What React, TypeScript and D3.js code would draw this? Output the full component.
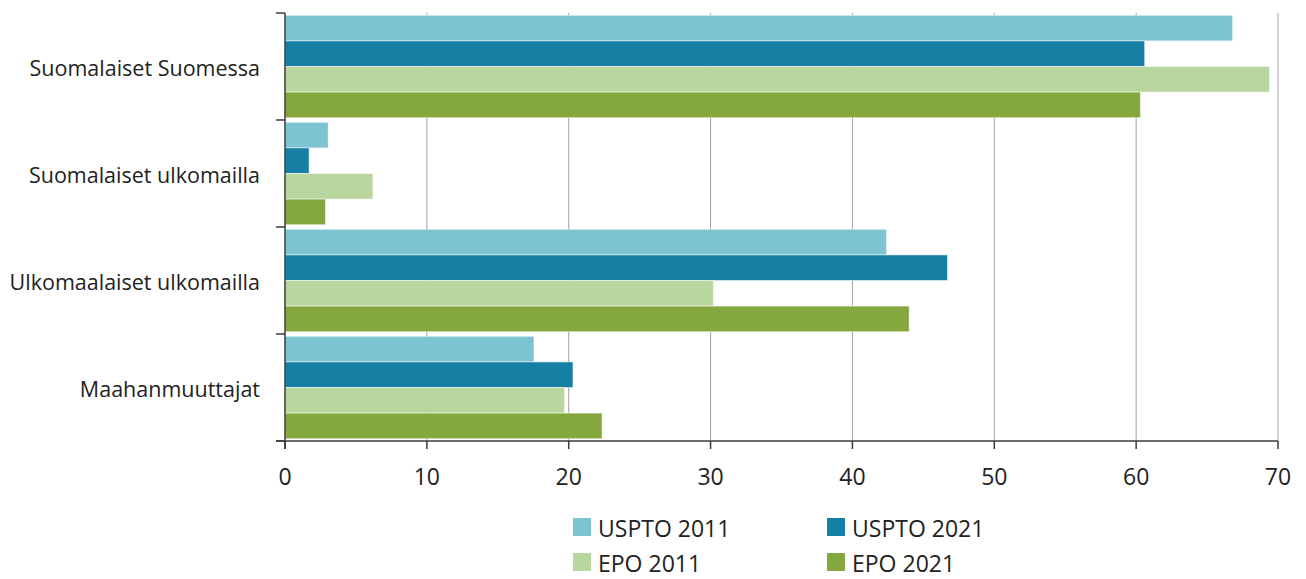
import React from "react";
import * as d3 from "d3";

const categories = [
  "Suomalaiset Suomessa",
  "Suomalaiset ulkomailla",
  "Ulkomaalaiset ulkomailla",
  "Maahanmuuttajat",
];
const seriesNames = ["USPTO 2011", "USPTO 2021", "EPO 2011", "EPO 2021"];
const uspto2011 = [66.8, 3.05, 42.4, 17.55];
const uspto2021 = [60.6, 1.7, 46.7, 20.3];
const epo2011 = [69.4, 6.2, 30.2, 19.7];
const epo2021 = [60.3, 2.85, 44.0, 22.35];
const xTicks = [0, 10, 20, 30, 40, 50, 60, 70];

const colors = ["#7cc4cf", "#1680a4", "#b8d69e", "#84a83e"];
const allSeries = [uspto2011, uspto2021, epo2011, epo2021];

const font = "'Open Sans', Lato, sans-serif";

export default function App() {
  const x = d3.scaleLinear().domain([0, 70]).range([285, 1278]);
  const y = d3.scaleBand().domain(categories).range([13, 441]);
  const inner = d3
    .scaleBand()
    .domain(seriesNames)
    .range([0, y.bandwidth()])
    .paddingOuter(0.09);

  return (
    <svg
      width={1306}
      height={579}
      style={{ position: "absolute", left: 0, top: 0, background: "#fff" }}
    >
      {/* grid */}
      {xTicks.slice(1).map((t) => (
        <line
          key={t}
          x1={x(t)}
          x2={x(t)}
          y1={13}
          y2={441}
          stroke="#a3a3a3"
          strokeWidth={1}
        />
      ))}

      {/* bars */}
      {categories.map((c, i) => (
        <g key={c} transform={`translate(0,${y(c)})`}>
          {allSeries.map((s, j) => (
            <rect
              key={j}
              x={x(0)}
              y={inner(seriesNames[j])}
              width={x(s[i]) - x(0)}
              height={inner.bandwidth()}
              fill={colors[j]}
              stroke="#ffffff"
              strokeOpacity={0.5}
              strokeWidth={1}
            />
          ))}
        </g>
      ))}

      {/* y axis */}
      <line x1={285} x2={285} y1={13} y2={449} stroke="#3a3a3a" strokeWidth={1.5} />
      {[...categories.map((c) => y(c) as number), 441].map((v, i) => (
        <line key={i} x1={276} x2={285} y1={v} y2={v} stroke="#3a3a3a" strokeWidth={1.5} />
      ))}
      {categories.map((c) => (
        <text
          key={c}
          x={260}
          y={(y(c) as number) + y.bandwidth() / 2 + 9}
          textAnchor="end"
          fontFamily={font}
          fontSize={21.5}
          fill="#222"
        >
          {c}
        </text>
      ))}

      {/* x axis */}
      <line x1={276} x2={1278} y1={441} y2={441} stroke="#3a3a3a" strokeWidth={1.5} />
      {xTicks.map((t) => (
        <g key={t}>
          <line x1={x(t)} x2={x(t)} y1={441} y2={449} stroke="#3a3a3a" strokeWidth={1.5} />
          <text
            x={x(t)}
            y={485}
            textAnchor="middle"
            fontFamily={font}
            fontSize={23}
            fill="#222"
          >
            {t}
          </text>
        </g>
      ))}

      {/* legend */}
      {seriesNames.map((n, j) => {
        const lx = j % 2 === 0 ? 573 : 827;
        const ly = j < 2 ? 518 : 553;
        return (
          <g key={n}>
            <rect x={lx} y={ly} width={18} height={18} fill={colors[j]} />
            <text
              x={lx + 25}
              y={ly + 19}
              fontFamily={font}
              fontSize={23}
              fill="#222"
            >
              {n}
            </text>
          </g>
        );
      })}
    </svg>
  );
}
